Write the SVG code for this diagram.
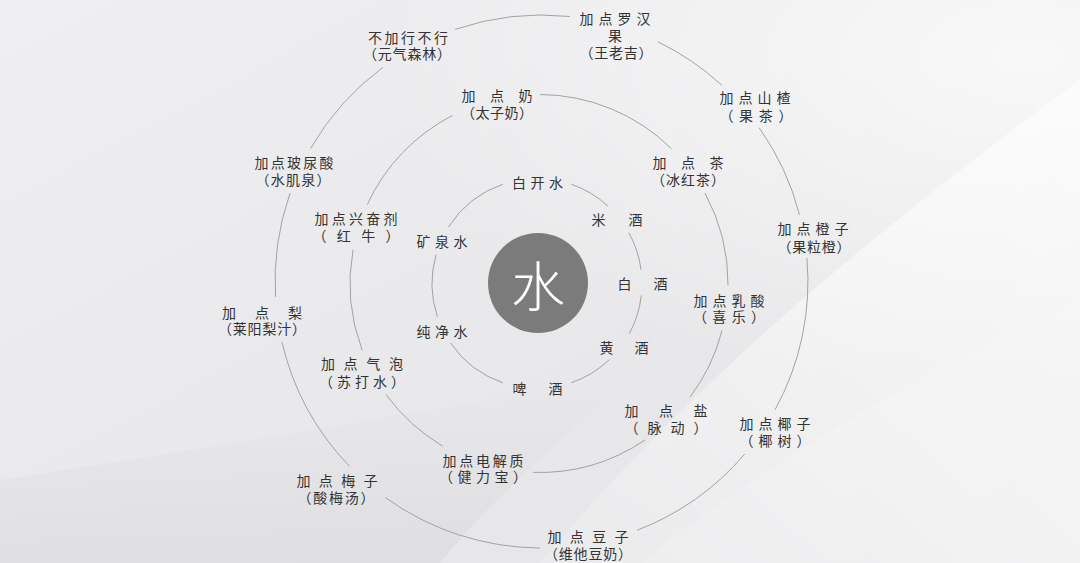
<svg xmlns="http://www.w3.org/2000/svg" width="1080" height="563" viewBox="0 0 1080 563">
<defs>
<linearGradient id="bg" x1="0" y1="0" x2="1" y2="1">
<stop offset="0" stop-color="#efeff1"/>
<stop offset="0.5" stop-color="#e9e9eb"/>
<stop offset="1" stop-color="#e5e5e7"/>
</linearGradient>
<linearGradient id="sheet" x1="0" y1="1" x2="1" y2="0">
<stop offset="0" stop-color="#ffffff" stop-opacity="0.15"/>
<stop offset="0.5" stop-color="#ffffff" stop-opacity="0.45"/>
<stop offset="1" stop-color="#ffffff" stop-opacity="0.6"/>
</linearGradient>
<linearGradient id="shade" x1="0" y1="0" x2="0" y2="1">
<stop offset="0" stop-color="#d8d8da" stop-opacity="0"/>
<stop offset="1" stop-color="#d8d8da" stop-opacity="0.55"/>
</linearGradient>
<radialGradient id="glow" cx="0.95" cy="0.1" r="0.6">
<stop offset="0" stop-color="#ffffff" stop-opacity="0.7"/>
<stop offset="1" stop-color="#ffffff" stop-opacity="0"/>
</radialGradient>
<style>
.lbl{font-family:"Noto Sans CJK SC","Noto Sans CJK JP",sans-serif;font-size:14px;font-weight:400;fill:#333333;text-anchor:middle;dominant-baseline:central}
.arc{fill:none;stroke:#a2a2a2;stroke-width:1}
</style>
</defs>
<rect width="1080" height="563" fill="url(#bg)"/>
<rect width="1080" height="563" fill="url(#glow)"/>
<path d="M0 563 L0 480 C200 450 430 410 640 375 C570 430 490 500 440 563 Z" fill="url(#shade)"/>
<path d="M540 563 C660 420 820 270 1080 80 L1080 563 Z" fill="url(#sheet)"/>
<path d="M640 563 C760 470 900 380 1080 300 L1080 563 Z" fill="#ffffff" fill-opacity="0.15"/>

<g id="connectors">
<path class="arc" d="M571.2 184.2 A105 105 0 0 1 607.9 206.1"/>
<path class="arc" d="M628.8 232.6 A105 105 0 0 1 641.1 269.8"/>
<path class="arc" d="M641.3 295.4 A105 105 0 0 1 629.3 333.6"/>
<path class="arc" d="M609.3 359.7 A105 105 0 0 1 571.2 382.8"/>
<path class="arc" d="M502.8 382.8 A105 105 0 0 1 450.5 343.0"/>
<path class="arc" d="M437.4 316.8 A105 105 0 0 1 436.1 254.6"/>
<path class="arc" d="M448.4 227.1 A105 105 0 0 1 502.8 184.2"/>

<path class="arc" d="M540.0 94.5 A189 189 0 0 1 671.5 148.7"/>
<path class="arc" d="M704.9 193.0 A189 189 0 0 1 728.0 285.1"/>
<path class="arc" d="M722.1 330.2 A189 189 0 0 1 690.1 397.0"/>
<path class="arc" d="M645.0 440.0 A189 189 0 0 1 533.1 472.4"/>
<path class="arc" d="M442.8 446.2 A189 189 0 0 1 385.9 394.3"/>
<path class="arc" d="M362.2 350.3 A189 189 0 0 1 353.0 250.0"/>
<path class="arc" d="M367.3 204.5 A189 189 0 0 1 452.6 115.4"/>

<path class="arc" d="M455.2 29.4 A266.5 266.5 0 0 1 569.8 16.5"/>
<path class="arc" d="M657.9 41.8 A266.5 266.5 0 0 1 721.9 85.3"/>
<path class="arc" d="M759.3 127.9 A266.5 266.5 0 0 1 799.5 214.8"/>
<path class="arc" d="M806.9 257.8 A266.5 266.5 0 0 1 775.0 409.9"/>
<path class="arc" d="M744.8 453.9 A266.5 266.5 0 0 1 637.0 530.3"/>
<path class="arc" d="M540.1 548.0 A266.5 266.5 0 0 1 385.2 497.4"/>
<path class="arc" d="M349.5 466.3 A266.5 266.5 0 0 1 281.9 341.9"/>
<path class="arc" d="M275.5 296.9 A266.5 266.5 0 0 1 290.1 193.0"/>
<path class="arc" d="M310.7 148.3 A266.5 266.5 0 0 1 383.0 67.3"/>
</g>

<g id="center">
<circle cx="538" cy="283" r="50" fill="#7b7b7b"/>
<text x="538" y="283" class="lbl" style="font-size:54px;fill:#ffffff;font-weight:300">水</text>
</g>

<g id="n-baikaishui"><text class="lbl" x="539.75" y="182" style="letter-spacing:4.5px">白开水</text></g>
<g id="n-mijiu"><text class="lbl" x="619.25" y="219" style="letter-spacing:4.5px">米　酒</text></g>
<g id="n-baijiu"><text class="lbl" x="644.5" y="283" style="letter-spacing:4px">白　酒</text></g>
<g id="n-huangjiu"><text class="lbl" x="625.75" y="347" style="letter-spacing:3.5px">黄　酒</text></g>
<g id="n-pijiu"><text class="lbl" x="539.5" y="388" style="letter-spacing:4px">啤　酒</text></g>
<g id="n-chunjingshui"><text class="lbl" x="444.25" y="331" style="letter-spacing:4.5px">纯净水</text></g>
<g id="n-kuangquanshui"><text class="lbl" x="444.25" y="241" style="letter-spacing:4.5px">矿泉水</text></g>

<g id="n-nai"><text class="lbl"><tspan x="497.1" y="95" style="letter-spacing:0.25px">加　点　奶</tspan><tspan x="497.25" y="112" style="letter-spacing:0.5px">（太子奶）</tspan></text></g>
<g id="n-cha"><text class="lbl"><tspan x="688.1" y="162" style="letter-spacing:0.25px">加　点　茶</tspan><tspan x="688.5" y="179" style="letter-spacing:1px">（冰红茶）</tspan></text></g>
<g id="n-rusuan"><text class="lbl"><tspan x="731.5" y="300" style="letter-spacing:5px">加点乳酸</tspan><tspan x="731.7" y="316" style="letter-spacing:5.33px">（喜乐）</tspan></text></g>
<g id="n-yan"><text class="lbl"><tspan x="667.6" y="410" style="letter-spacing:3.25px">加　点　盐</tspan><tspan x="670.5" y="427" style="letter-spacing:9px">（脉动）</tspan></text></g>
<g id="n-dianjiezhi"><text class="lbl"><tspan x="484.4" y="460" style="letter-spacing:2.75px">加点电解质</tspan><tspan x="485.25" y="476" style="letter-spacing:4.5px">（健力宝）</tspan></text></g>
<g id="n-qipao"><text class="lbl"><tspan x="366.3" y="363" style="letter-spacing:8.67px">加点气泡</tspan><tspan x="364" y="381" style="letter-spacing:4px">（苏打水）</tspan></text></g>
<g id="n-xingfenji"><text class="lbl"><tspan x="357.6" y="218" style="letter-spacing:3.25px">加点兴奋剂</tspan><tspan x="361.2" y="235" style="letter-spacing:10.33px">（红牛）</tspan></text></g>

<g id="n-luohanguo"><text class="lbl"><tspan x="617.5" y="18" style="letter-spacing:5px">加点罗汉</tspan><tspan x="615" y="35">果</tspan><tspan x="616.4" y="52" style="letter-spacing:0.75px">（王老吉）</tspan></text></g>
<g id="n-shanzha"><text class="lbl"><tspan x="757.5" y="97" style="letter-spacing:5px">加点山楂</tspan><tspan x="758.8" y="115" style="letter-spacing:5.67px">（果茶）</tspan></text></g>
<g id="n-chengzi"><text class="lbl"><tspan x="815.5" y="228" style="letter-spacing:5px">加点橙子</tspan><tspan x="814.4" y="246" style="letter-spacing:0.75px">（果粒橙）</tspan></text></g>
<g id="n-yezi"><text class="lbl"><tspan x="777.5" y="423" style="letter-spacing:5px">加点椰子</tspan><tspan x="777.5" y="440" style="letter-spacing:5px">（椰树）</tspan></text></g>
<g id="n-douzi"><text class="lbl"><tspan x="592.2" y="536" style="letter-spacing:8.33px">加点豆子</tspan><tspan x="588.4" y="553" style="letter-spacing:0.8px">（维他豆奶）</tspan></text></g>
<g id="n-meizi"><text class="lbl"><tspan x="341.2" y="480" style="letter-spacing:8.33px">加点梅子</tspan><tspan x="336.9" y="497" style="letter-spacing:1.75px">（酸梅汤）</tspan></text></g>
<g id="n-li"><text class="lbl"><tspan x="263.25" y="312" style="letter-spacing:2.5px">加　点　梨</tspan><tspan x="262.4" y="328" style="letter-spacing:0.8px">（莱阳梨汁）</tspan></text></g>
<g id="n-boniaosuan"><text class="lbl"><tspan x="295.1" y="162" style="letter-spacing:2.25px">加点玻尿酸</tspan><tspan x="293.6" y="179" style="letter-spacing:1.25px">（水肌泉）</tspan></text></g>
<g id="n-bujia"><text class="lbl"><tspan x="409.25" y="37" style="letter-spacing:2.5px">不加行不行</tspan><tspan x="407.4" y="53" style="letter-spacing:0.8px">（元气森林）</tspan></text></g>
</svg>
